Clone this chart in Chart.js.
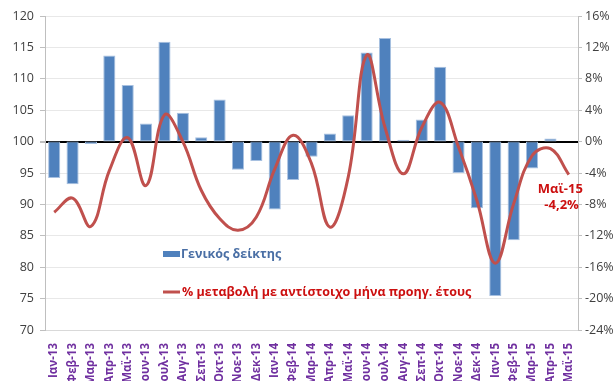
<!DOCTYPE html>
<html lang="el">
<head>
<meta charset="utf-8">
<title>Γενικός δείκτης</title>
<script src="https://cdn.jsdelivr.net/npm/chart.js@4.4.1/dist/chart.umd.min.js"></script>
<style>
  html, body { margin: 0; padding: 0; background: #ffffff; }
  #wrap { position: relative; width: 615px; height: 381px; }
</style>
</head>
<body>
<div id="wrap"><canvas id="chart" width="615" height="381"></canvas></div>
<script>
// Monthly categories
const months = [
  'Ιαν-13','Φεβ-13','Μαρ-13','Απρ-13','Μαϊ-13','Ιουν-13','Ιουλ-13','Αυγ-13','Σεπ-13','Οκτ-13','Νοε-13','Δεκ-13',
  'Ιαν-14','Φεβ-14','Μαρ-14','Απρ-14','Μαϊ-14','Ιουν-14','Ιουλ-14','Αυγ-14','Σεπ-14','Οκτ-14','Νοε-14','Δεκ-14',
  'Ιαν-15','Φεβ-15','Μαρ-15','Απρ-15','Μαϊ-15'
];

// General index (base = 100); no index value for the last month
const indexValues = [
  94.2, 93.2, 99.6, 113.7, 109.0, 102.9, 115.9, 104.6, 100.7, 106.7, 95.5, 96.9,
  89.2, 93.9, 97.6, 101.3, 104.2, 114.2, 116.5, 100.3, 103.5, 111.9, 95.0, 89.4,
  75.4, 84.3, 95.7, 100.5, null
];

// % change vs the same month of the previous year
const yoyChange = [
  -9.0, -7.2, -10.8, -3.7, 0.5, -5.6, 3.4, 0.0, -6.2, -9.8, -11.3, -9.6,
  -3.5, 0.8, -2.8, -10.9, -4.5, 11.0, 1.8, -4.1, 1.8, 5.0, -0.7, -7.5,
  -15.5, -7.9, -1.8, -0.9, -4.2
];

const baseLevel = 100;
const indexTicks = { min: 70, max: 120, step: 5 };
const changeTicks = { min: -24, max: 16, step: 4 };

const seriesNames = ['Γενικός δείκτης', '% μεταβολή με αντίστοιχο μήνα προηγ. έτους'];

const BLUE = '#4F81BD';
const RED = '#C0504D';
const LABEL_RED = '#CC1010';

Chart.defaults.font.family = "'Open Sans', 'Liberation Sans', sans-serif";
Chart.defaults.color = '#404040';

// Bars float from the base level
const barData = indexValues.map(v => (v === null ? null : [baseLevel, v]));

const fmtPct = v => v.toFixed(1).replace('.', ',') + '%';

// Legend inside the plot area and the label on the last point
const overlayPlugin = {
  id: 'overlay',
  afterDraw(chart) {
    const ctx = chart.ctx;
    const area = chart.chartArea;
    ctx.save();
    ctx.textBaseline = 'middle';
    ctx.textAlign = 'left';
    ctx.font = "bold 12.5px 'Open Sans', 'Liberation Sans', sans-serif";

    const lx = area.left + 118;
    const y1 = area.top + 238;
    ctx.fillStyle = BLUE;
    ctx.fillRect(lx, y1 - 3, 17, 6);
    ctx.fillStyle = '#4A6FA5';
    ctx.fillText(seriesNames[0], lx + 18, y1);

    const y2 = area.top + 276;
    ctx.strokeStyle = RED;
    ctx.lineWidth = 3;
    ctx.beginPath();
    ctx.moveTo(lx, y2);
    ctx.lineTo(lx + 17, y2);
    ctx.stroke();
    ctx.fillStyle = LABEL_RED;
    ctx.fillText(seriesNames[1], lx + 19, y2);

    // label for the latest month
    ctx.font = "bold 13px 'Open Sans', 'Liberation Sans', sans-serif";
    const meta = chart.getDatasetMeta(1);
    const last = yoyChange.length - 1;
    const pt = meta.data[last];
    ctx.textAlign = 'right';
    ctx.fillStyle = LABEL_RED;
    ctx.fillText(months[last], pt.x + 14, pt.y + 15);
    ctx.fillText(fmtPct(yoyChange[last]), pt.x + 10, pt.y + 31);
    ctx.restore();
  }
};

new Chart(document.getElementById('chart'), {
  data: {
    labels: months,
    datasets: [
      {
        type: 'bar',
        label: seriesNames[0],
        data: barData,
        yAxisID: 'y',
        backgroundColor: BLUE,
        borderColor: '#A7C0E0',
        borderWidth: 1,
        borderSkipped: false,
        categoryPercentage: 1.0,
        barPercentage: 0.66,
        order: 2
      },
      {
        type: 'line',
        label: seriesNames[1],
        data: yoyChange,
        yAxisID: 'y1',
        borderColor: RED,
        borderWidth: 3,
        pointRadius: 0,
        tension: 0.4,
        fill: false,
        order: 1
      }
    ]
  },
  options: {
    responsive: false,
    devicePixelRatio: 1,
    animation: false,
    layout: { padding: { top: 16, left: 0, right: 0, bottom: 0 } },
    plugins: {
      legend: { display: false },
      tooltip: { enabled: false }
    },
    scales: {
      x: {
        grid: { display: false },
        border: { color: '#D9D9D9' },
        ticks: {
          color: '#7030A0',
          font: { size: 11.5, weight: 'bold' },
          minRotation: 90,
          maxRotation: 90,
          autoSkip: false,
          padding: 5
        },
        afterFit(scale) { scale.height = 51; }
      },
      y: {
        position: 'left',
        min: indexTicks.min,
        max: indexTicks.max,
        ticks: {
          stepSize: indexTicks.step,
          font: { size: 12.5 },
          color: '#404040',
          padding: 6
        },
        grid: {
          color: c => (c.tick && c.tick.value === baseLevel ? '#000000' : '#E8E8E8'),
          lineWidth: c => (c.tick && c.tick.value === baseLevel ? 2 : 1),
          tickColor: '#BFBFBF',
          tickLength: 5
        },
        border: { color: '#BFBFBF' },
        afterFit(scale) { scale.width = 45; }
      },
      y1: {
        position: 'right',
        min: changeTicks.min,
        max: changeTicks.max,
        ticks: {
          stepSize: changeTicks.step,
          font: { size: 12.5 },
          color: '#404040',
          padding: 3,
          callback: v => v + '%'
        },
        grid: {
          drawOnChartArea: false,
          tickColor: '#BFBFBF',
          tickLength: 4
        },
        border: { color: '#BFBFBF' },
        afterFit(scale) { scale.width = 37; }
      }
    }
  },
  plugins: [overlayPlugin]
});
</script>
</body>
</html>
